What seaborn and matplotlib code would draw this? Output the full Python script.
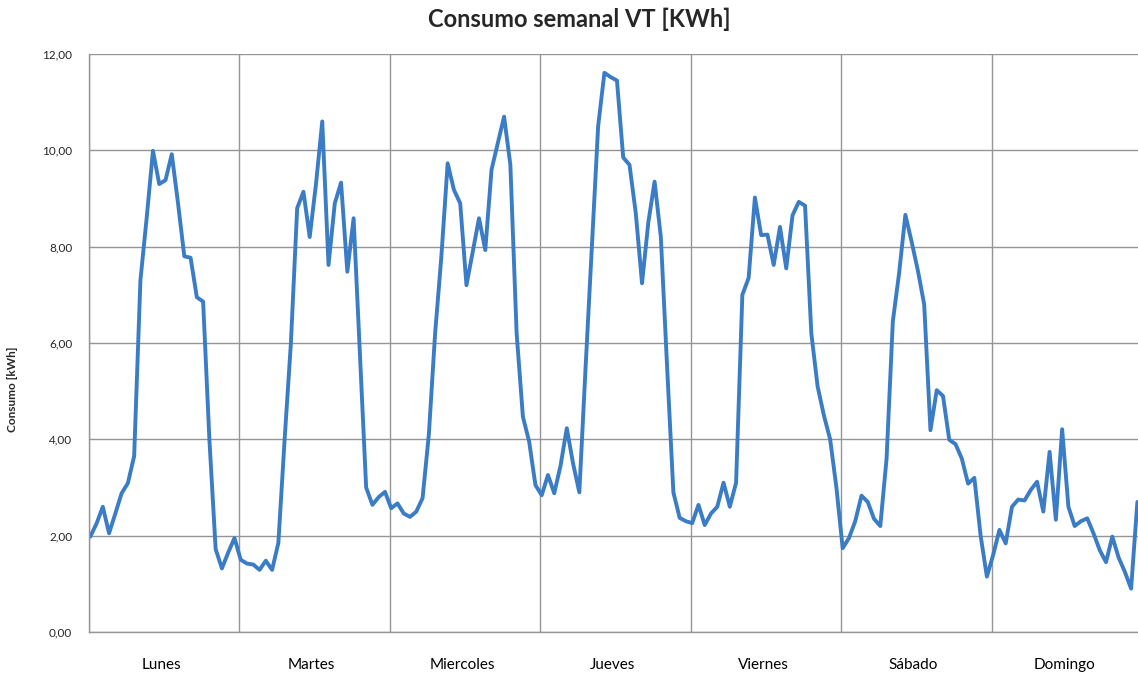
import numpy as np
import pandas as pd
import matplotlib
matplotlib.use("Agg")
import matplotlib.pyplot as plt
import seaborn as sns

# Días de la semana (eje x)
dias = ["Lunes", "Martes", "Miercoles", "Jueves", "Viernes", "Sábado", "Domingo"]

# Consumo horario [kWh], 24 valores por día
lunes = [1.98, 2.25, 2.60, 2.05, 2.46, 2.88, 3.09, 3.65, 7.30, 8.60, 9.99, 9.30,
         9.38, 9.92, 8.90, 7.80, 7.77, 6.95, 6.86, 4.00, 1.72, 1.32, 1.65, 1.95]
martes = [1.50, 1.42, 1.40, 1.29, 1.48, 1.29, 1.85, 4.00, 6.00, 8.80, 9.14, 8.20,
          9.30, 10.60, 7.62, 8.90, 9.33, 7.48, 8.59, 5.80, 3.00, 2.64, 2.80, 2.91]
miercoles = [2.57, 2.67, 2.46, 2.39, 2.50, 2.78, 4.10, 6.20, 7.80, 9.73, 9.18, 8.90,
             7.20, 7.90, 8.59, 7.93, 9.60, 10.15, 10.70, 9.70, 6.20, 4.47, 3.95, 3.05]
jueves = [2.84, 3.26, 2.88, 3.45, 4.23, 3.50, 2.90, 5.50, 8.00, 10.50, 11.61, 11.52,
          11.45, 9.85, 9.70, 8.70, 7.24, 8.50, 9.35, 8.20, 5.50, 2.90, 2.37, 2.30]
viernes = [2.26, 2.64, 2.22, 2.46, 2.60, 3.10, 2.60, 3.10, 7.00, 7.35, 9.02, 8.24,
           8.25, 7.62, 8.41, 7.55, 8.65, 8.93, 8.85, 6.20, 5.10, 4.50, 4.00, 3.00]
sabado = [1.74, 1.95, 2.30, 2.83, 2.70, 2.35, 2.20, 3.60, 6.45, 7.45, 8.66, 8.10,
          7.50, 6.80, 4.19, 5.02, 4.90, 3.99, 3.90, 3.60, 3.08, 3.20, 2.00, 1.15]
domingo = [1.60, 2.12, 1.84, 2.60, 2.75, 2.73, 2.95, 3.12, 2.50, 3.74, 2.33, 4.21,
           2.60, 2.20, 2.30, 2.36, 2.05, 1.70, 1.45, 1.98, 1.55, 1.25, 0.90, 2.70]

y_ticks = [0, 2, 4, 6, 8, 10, 12]

consumo = lunes + martes + miercoles + jueves + viernes + sabado + domingo
df = pd.DataFrame({"hora": np.arange(len(consumo)), "consumo": consumo})

sns.set_style("white")
plt.rcParams["font.family"] = ["Lato", "DejaVu Sans"]

gris = "#959595"
azul = "#3b7cc6"

fig = plt.figure(figsize=(11.38, 6.76), dpi=100)
ax = fig.add_axes([89 / 1138, 44 / 676, 1049 / 1138, 578 / 676])

sns.lineplot(data=df, x="hora", y="consumo", ax=ax, color=azul, linewidth=2.8,
             solid_capstyle="round", solid_joinstyle="round")

ax.set_xlim(-0.2, 167.1)
ax.set_ylim(0, 12)

# ejes y rejilla
ax.set_yticks(y_ticks)
ax.set_yticklabels([f"{v:.2f}".replace(".", ",") for v in y_ticks], fontsize=8.5)
limites = [24 * i - 0.2 for i in range(len(dias))]
ax.set_xticks(limites, minor=True)
ax.set_xticks([24 * i + 11.3 for i in range(len(dias))])
ax.set_xticklabels(dias, fontsize=11)
ax.tick_params(axis="x", which="major", length=0, pad=19, colors="black")
ax.tick_params(axis="x", which="minor", length=5, width=1, color=gris)
ax.tick_params(axis="y", length=5, width=1, color=gris, pad=7)
ax.grid(axis="y", which="major", color=gris, linewidth=1)
ax.grid(axis="x", which="minor", color=gris, linewidth=1)
for lado in ["top", "right"]:
    ax.spines[lado].set_visible(False)
for lado in ["left", "bottom"]:
    ax.spines[lado].set_color(gris)
    ax.spines[lado].set_linewidth(1)

ax.set_xlabel("")
ax.set_ylabel("Consumo [kWh]", fontsize=8.5, fontweight="bold")
ax.yaxis.set_label_coords(-0.068, 0.42)

fig.text(579 / 1138, 1 - 19 / 676, "Consumo semanal VT [KWh]", ha="center", va="center",
         fontsize=17, fontweight="bold")

fig.savefig("out.png", dpi=100)
